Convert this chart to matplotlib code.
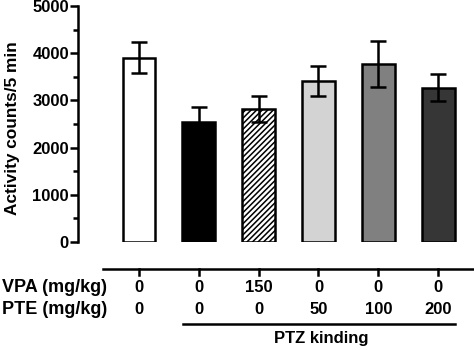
import matplotlib
matplotlib.use("Agg")
import matplotlib.pyplot as plt
from matplotlib.ticker import MultipleLocator
import matplotlib.transforms as mtransforms

plt.rcParams['font.family'] = ['Liberation Sans', 'DejaVu Sans']
plt.rcParams['font.weight'] = 'bold'
plt.rcParams['hatch.linewidth'] = 1.1

vpa = ['0', '0', '150', '0', '0', '0']
pte = ['0', '0', '0', '50', '100', '200']
means = [3900, 2550, 2820, 3410, 3770, 3270]
errs = [330, 320, 270, 320, 490, 290]
colors = ['white', 'black', 'white', '#d3d3d3', '#808080', '#363636']
hatches = ['', '', '//////', '', '', '']

fig = plt.figure(figsize=(4.74, 3.5), dpi=100)
ax = fig.add_axes([78/474, 1-242/350, (474-78)/474, 236/350])

x = list(range(len(means)))
for i in x:
    ax.bar(i, means[i], width=0.55, color=colors[i], edgecolor='black',
           linewidth=1.8, hatch=hatches[i], zorder=2)
ax.errorbar(x, means, yerr=errs, fmt='none', ecolor='black', elinewidth=1.8,
            capsize=6, capthick=1.8, zorder=3)

ax.set_xlim(-1.02, 5.6)
ax.set_ylim(0, 5000)
ax.yaxis.set_major_locator(MultipleLocator(1000))
ax.yaxis.set_minor_locator(MultipleLocator(500))
for s in ['top', 'right', 'bottom']:
    ax.spines[s].set_visible(False)
ax.spines['left'].set_linewidth(1.8)
ax.set_xticks([])
ax.tick_params(axis='y', which='major', length=5.5, width=1.8, labelsize=12, pad=1)
ax.tick_params(axis='y', which='minor', length=3.5, width=1.8)
for lbl in ax.get_yticklabels():
    lbl.set_fontweight('bold')
fig.text(13/474, 1-128/350, 'Activity counts/5 min', rotation=90, ha='center', va='center',
         fontsize=12.4, fontweight='bold')

trans = mtransforms.blended_transform_factory(ax.transData, fig.transFigure)
def fy(px):
    return 1 - px / 350

# category axis line
ax.plot([-0.6, 5.6], [fy(269), fy(269)], transform=trans, color='black', lw=1.8, clip_on=False)
for i in x:
    ax.plot([i, i], [fy(269), fy(275)], transform=trans, color='black', lw=1.8, clip_on=False)
    ax.text(i, fy(288), vpa[i], transform=trans, ha='center', va='center', fontsize=12, fontweight='bold')
    ax.text(i, fy(309), pte[i], transform=trans, ha='center', va='center', fontsize=12, fontweight='bold')

fig.text(107/474, fy(288), 'VPA (mg/kg)', ha='right', va='center', fontsize=13, fontweight='bold')
fig.text(107/474, fy(309), 'PTE (mg/kg)', ha='right', va='center', fontsize=13, fontweight='bold')

ax.plot([0.73, 5.28], [fy(324), fy(324)], transform=trans, color='black', lw=1.8, clip_on=False)
ax.text(3.05, fy(339), 'PTZ kinding', transform=trans, ha='center', va='center', fontsize=12, fontweight='bold')

fig.savefig('out.png', dpi=100)
